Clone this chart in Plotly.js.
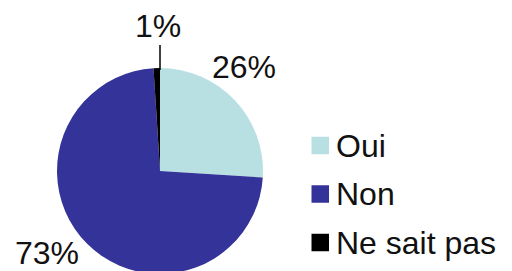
<!DOCTYPE html>
<html>
<head>
<meta charset="utf-8">
<script src="https://cdn.plot.ly/plotly-3.0.1.min.js"></script>
<style>
html,body{margin:0;padding:0;overflow:hidden;background:#fff;}
#chart{width:512px;height:274px;}
</style>
</head>
<body>
<div id="chart"></div>
<script>
// Data
const labels = ["Oui", "Non", "Ne sait pas"];
const values = [26, 73, 1];
const pctLabels = ["26%", "73%", "1%"];
const colors = ["#b8e0e3", "#333399", "#000000"];

const W = 512, H = 274;
const px = x => x / W;
const py = y => (H - y) / H;

const FONT = "Liberation Sans, Arial, sans-serif";

// Label positions (pixels) for each slice's percentage text
const pctPos = [[244, 67], [47, 253], [158, 26]];
// Legend rows (pixel y centres)
const legendY = [145.5, 194, 242.5];

const annotations = [];
const shapes = [];

pctLabels.forEach((t, i) => {
  annotations.push({
    text: t, xref: "paper", yref: "paper",
    x: px(pctPos[i][0]), y: py(pctPos[i][1]),
    xanchor: "center", yanchor: "middle", showarrow: false,
    font: {family: FONT, size: 32, color: "#111"}
  });
});

// leader line for the small slice
shapes.push({type: "line", xref: "paper", yref: "paper",
  x0: px(160), x1: px(160), y0: py(45), y1: py(70),
  line: {color: "#000", width: 1.5}});

labels.forEach((l, i) => {
  const cy = legendY[i];
  shapes.push({type: "rect", xref: "paper", yref: "paper",
    x0: px(311.5), x1: px(329), y0: py(cy - 8.75), y1: py(cy + 8.75),
    fillcolor: colors[i], line: {width: 0}});
  annotations.push({
    text: l, xref: "paper", yref: "paper",
    x: px(334), y: py(cy), xanchor: "left", yanchor: "middle",
    showarrow: false, font: {family: FONT, size: 32, color: "#111"}
  });
});

const trace = {
  type: "pie",
  labels: labels,
  values: values,
  marker: {colors: colors, line: {width: 0}},
  sort: false,
  direction: "clockwise",
  rotation: 0,
  textinfo: "none",
  hoverinfo: "label+percent",
  domain: {x: [px(57), px(263)], y: [py(274), py(68)]},
  showlegend: false
};

const layout = {
  width: W, height: H,
  margin: {l: 0, r: 0, t: 0, b: 0},
  paper_bgcolor: "#fff",
  showlegend: false,
  annotations: annotations,
  shapes: shapes
};

Plotly.newPlot("chart", [trace], layout, {displayModeBar: false, staticPlot: true});
</script>
</body>
</html>
